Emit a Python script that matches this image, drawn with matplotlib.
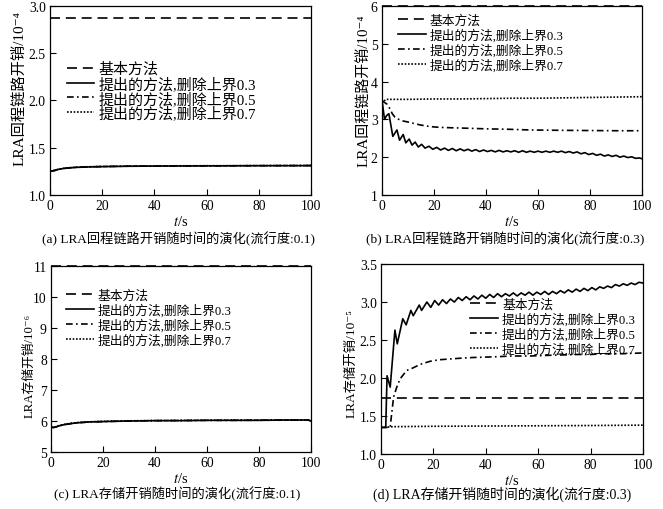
import matplotlib
matplotlib.use('Agg')
import matplotlib.pyplot as plt

plt.rcParams['font.family'] = ['Liberation Serif', 'Noto Sans CJK SC', 'DejaVu Sans']
plt.rcParams['mathtext.fontset'] = 'stix'

labels = ['基本方法', '提出的方法,删除上界0.3', '提出的方法,删除上界0.5', '提出的方法,删除上界0.7']

# (a) backhaul cost, popularity 0.1  (unit 1e-4)
ta = [0, 1, 2, 3, 5, 8, 10, 15, 20, 30, 40, 50, 60, 70, 80, 90, 100]
a_base = 2.87
a_03 = [1.25, 1.255, 1.26, 1.27, 1.28, 1.288, 1.292, 1.297, 1.30, 1.304, 1.306, 1.307, 1.308, 1.309, 1.31, 1.31, 1.31]
a_05 = [1.25, 1.256, 1.262, 1.27, 1.281, 1.289, 1.293, 1.298, 1.301, 1.305, 1.306, 1.307, 1.308, 1.309, 1.31, 1.311, 1.312]
a_07 = [1.25, 1.256, 1.262, 1.271, 1.282, 1.29, 1.294, 1.299, 1.302, 1.306, 1.308, 1.309, 1.31, 1.31, 1.311, 1.312, 1.313]

# (b) backhaul cost, popularity 0.3  (unit 1e-4)
b_base = 6.0
tb_03 = [0, 1, 1.8, 2.7, 4.2, 5.8, 6.8, 8.2, 9.2, 10.5, 11.6, 12.8, 14, 15.3, 16.6,
         18.1, 19.6, 21.1, 22.6, 24.1, 25.6, 27.1, 28.6, 30.1, 31.6, 33.1, 34.6, 36.1, 37.6,
         39.1, 40.6, 42.1, 43.6, 45.1, 46.6, 48.1, 49.6, 51.1, 52.6, 54.1, 55.6, 57.1, 58.6,
         60.1, 61.6, 63.1, 64.6, 66.1, 67.6, 69.1, 70.6, 72.1, 73.6, 75.1, 76.6, 78.1, 79.6,
         81.1, 82.6, 84.1, 85.6, 87.1, 88.6, 90.1, 91.6, 93.1, 94.6, 96.1, 97.6, 99.1, 100]
b_03 = [3.54, 3.0, 3.1, 3.15, 2.55, 2.72, 2.45, 2.6, 2.38, 2.48, 2.32, 2.4, 2.27, 2.34, 2.24,
        2.29, 2.21, 2.26, 2.19, 2.24, 2.18, 2.23, 2.17, 2.22, 2.17, 2.21, 2.16, 2.20, 2.15,
        2.19, 2.15, 2.18, 2.14, 2.18, 2.14, 2.17, 2.14, 2.17, 2.13, 2.17, 2.13, 2.16, 2.13,
        2.16, 2.13, 2.16, 2.13, 2.16, 2.13, 2.16, 2.12, 2.15, 2.11, 2.14, 2.09, 2.12, 2.07,
        2.10, 2.05, 2.08, 2.03, 2.06, 2.02, 2.05, 2.00, 2.03, 1.99, 2.01, 1.97, 1.98, 1.96]
tb_05 = [0, 1, 2, 3.1, 4, 5, 6.5, 8, 10.8, 13, 15, 18.5, 22, 26, 31, 40, 48, 57, 70, 80, 90, 100]
b_05 = [3.5, 3.45, 3.4, 3.28, 3.15, 3.06, 3.0, 2.96, 2.92, 2.88, 2.85, 2.81, 2.79, 2.78, 2.77,
        2.75, 2.74, 2.72, 2.71, 2.705, 2.70, 2.70]
tb_07 = [0, 0.5, 1.5, 3, 10, 20, 30, 40, 50, 60, 70, 80, 90, 100]
b_07 = [3.5, 3.46, 3.53, 3.53, 3.53, 3.54, 3.54, 3.55, 3.56, 3.56, 3.57, 3.58, 3.59, 3.6]

# (c) storage cost, popularity 0.1  (unit 1e-6)
tc = [0, 1, 2, 3, 5, 8, 10, 15, 20, 30, 40, 50, 60, 70, 80, 90, 99, 100]
c_base = 11.0
c_03 = [5.8, 5.79, 5.81, 5.84, 5.88, 5.92, 5.94, 5.97, 5.98, 6.0, 6.01, 6.01, 6.02, 6.02, 6.02, 6.03, 6.03, 6.0]
c_05 = [5.8, 5.79, 5.81, 5.84, 5.88, 5.92, 5.94, 5.97, 5.98, 6.0, 6.01, 6.015, 6.02, 6.02, 6.025, 6.03, 6.03, 6.0]
c_07 = [5.8, 5.8, 5.82, 5.85, 5.89, 5.93, 5.95, 5.975, 5.99, 6.005, 6.015, 6.02, 6.025, 6.03, 6.03, 6.035, 6.035, 6.0]

# (d) storage cost, popularity 0.3  (unit 1e-5)
d_base = 1.74
td_03 = [0, 1.8, 2.3, 3.5, 5.3, 6.2, 8.3, 9.6, 11.4, 12.3, 14.6, 15.5, 17.5,
         19, 20.5, 22, 23.5, 25, 26.5, 28, 29.5, 31, 32.5, 34, 35.5, 37, 38.5, 40, 41.5,
         43, 44.5, 46, 47.5, 49, 50.5, 52, 53.5, 55, 56.5, 58, 59.5, 61, 62.5, 64, 65.5,
         67, 68.5, 70, 71.5, 73, 74.5, 76, 77.5, 79, 80.5, 82, 83.5, 85, 86.5, 88, 89.5,
         91, 92.5, 94, 95.5, 97, 98.5, 100]
d_03 = [1.35, 1.35, 2.03, 1.88, 2.63, 2.45, 2.78, 2.70, 2.89, 2.82, 2.96, 2.89, 3.0,
        2.93, 3.02, 2.96, 3.03, 2.98, 3.04, 3.00, 3.06, 3.02, 3.07, 3.03, 3.08, 3.04, 3.09, 3.05, 3.10,
        3.06, 3.11, 3.07, 3.11, 3.08, 3.12, 3.08, 3.12, 3.09, 3.13, 3.09, 3.13, 3.10, 3.14, 3.10, 3.14,
        3.11, 3.15, 3.12, 3.16, 3.13, 3.17, 3.14, 3.18, 3.15, 3.19, 3.16, 3.20, 3.18, 3.21, 3.19, 3.23,
        3.21, 3.24, 3.22, 3.25, 3.23, 3.26, 3.25]
td_05 = [0, 3.5, 3.8, 4.8, 6, 7.3, 9.8, 12, 15, 18.7, 22, 26, 30, 35, 44, 50, 57, 65, 75, 80, 85, 92, 100]
d_05 = [1.35, 1.35, 1.45, 1.75, 1.88, 1.99, 2.1, 2.13, 2.18, 2.22, 2.24, 2.25, 2.26, 2.27, 2.28,
        2.29, 2.29, 2.30, 2.31, 2.31, 2.32, 2.32, 2.33]
td_07 = [0, 5, 20, 50, 80, 100]
d_07 = [1.35, 1.36, 1.365, 1.37, 1.375, 1.38]

captions = ['(a) LRA回程链路开销随时间的演化(流行度:0.1)',
            '(b) LRA回程链路开销随时间的演化(流行度:0.3)',
            '(c) LRA存储开销随时间的演化(流行度:0.1)',
            '(d) LRA存储开销随时间的演化(流行度:0.3)']

fig = plt.figure(figsize=(6.63, 5.1), dpi=100)

dash = (6, 3.5)
dashdot = (4, 2, 1, 2)
dots = (1, 1)


def draw_panel(rect, base, curves, ylim, yticks, yfmt, ylabel, ylabel_size, ylabel_xy,
               leg_anchor, leg_size, leg_hl, leg_sp, caption, cap_xy, cap_size):
    ax = fig.add_axes(rect)
    ax.plot([0, 100], [base, base], color='k', lw=1.2, dashes=dash, clip_on=False, label=labels[0])
    t3, y3, t5, y5, t7, y7 = curves
    ax.plot(t3, y3, color='k', lw=1.2, label=labels[1])
    ax.plot(t5, y5, color='k', lw=1.2, dashes=dashdot, label=labels[2])
    ax.plot(t7, y7, color='k', lw=1.2, dashes=dots, label=labels[3])
    ax.set_xlim(0, 100)
    ax.set_ylim(*ylim)
    ax.set_xticks([0, 20, 40, 60, 80, 100])
    ax.set_yticks(yticks)
    ax.set_yticklabels([yfmt.format(v) for v in yticks])
    ax.tick_params(direction='in', length=4, labelsize=9.8, pad=3)
    ax.set_xlabel('$t$/s', fontsize=10.5, labelpad=1)
    ax.set_ylabel(ylabel, fontsize=ylabel_size)
    ax.yaxis.set_label_coords(*ylabel_xy)
    for sp in ax.spines.values():
        sp.set_linewidth(0.9)
    ax.legend(loc='upper left', bbox_to_anchor=leg_anchor, frameon=False, fontsize=leg_size,
              handlelength=leg_hl, handletextpad=0.3, labelspacing=leg_sp, borderpad=0, borderaxespad=0)
    fig.text(cap_xy[0], cap_xy[1], caption, ha='center', va='center', fontsize=cap_size)
    return ax


draw_panel([0.0754, 0.6157, 0.394, 0.3706], a_base, (ta, a_03, ta, a_05, ta, a_07),
           (1.0, 3.0), [1.0, 1.5, 2.0, 2.5, 3.0], '{:.1f}', 'LRA回程链路开销/10⁻⁴', 11.0, (-0.09, 0.57),
           (0.065, 0.705), 10.8, 1.8, 0.0, captions[0], (178 / 663, 0.531), 9.5)
draw_panel([0.576, 0.6157, 0.392, 0.3706], b_base, (tb_03, b_03, tb_05, b_05, tb_07, b_07),
           (1, 6), [1, 2, 3, 4, 5, 6], '{:d}', 'LRA回程链路开销/10⁻⁴', 10.8, (-0.045, 0.555),
           (0.062, 0.957), 9.2, 2.2, 0.12, captions[1], (505 / 663, 0.531), 9.7)
draw_panel([0.0769, 0.1118, 0.392, 0.3647], c_base, (tc, c_03, tc, c_05, tc, c_07),
           (5, 11), [5, 6, 7, 8, 9, 10, 11], '{:d}', 'LRA存储开销/10⁻⁶', 9.2, (-0.06, 0.47),
           (0.057, 0.876), 9.2, 2.2, 0.12, captions[2], (177.5 / 663, 0.031), 9.5)
draw_panel([0.5747, 0.1078, 0.395, 0.3725], d_base, (td_03, d_03, td_05, d_05, td_07, d_07),
           (1.0, 3.5), [1.0, 1.5, 2.0, 2.5, 3.0, 3.5], '{:.1f}', 'LRA存储开销/10⁻⁵', 9.6, (-0.088, 0.484),
           (0.34, 0.821), 9.2, 2.2, 0.12, captions[3], (502.5 / 663, 0.031), 10)

fig.savefig('out.png', dpi=100)
